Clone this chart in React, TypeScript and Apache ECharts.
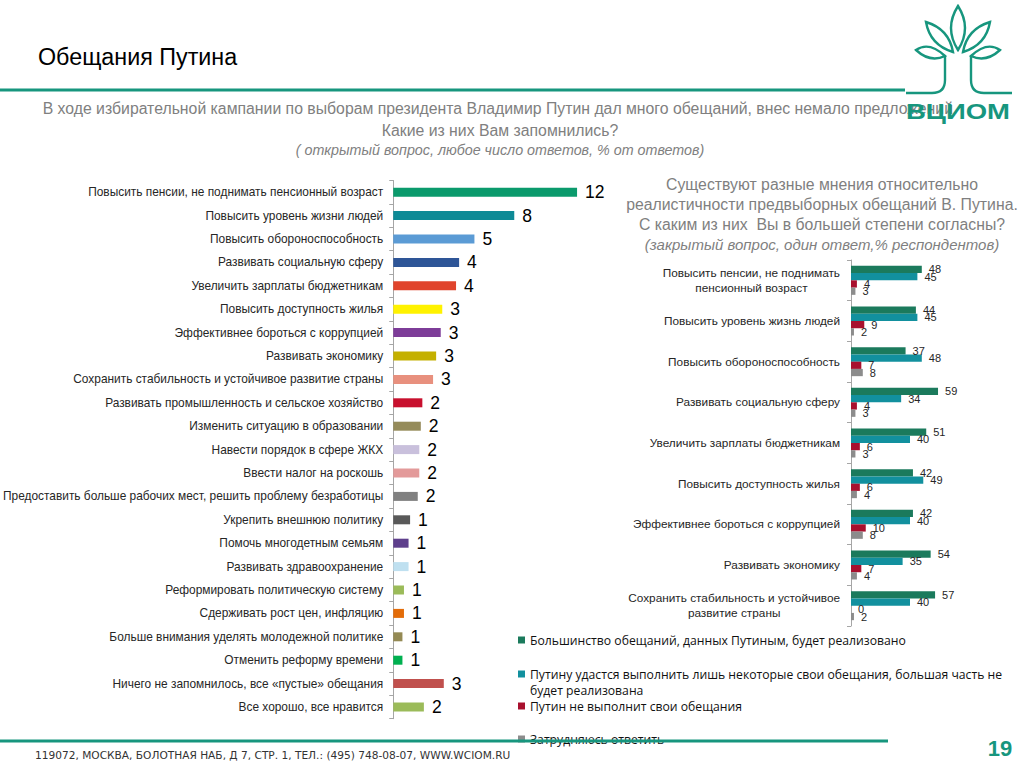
import React, { useEffect, useRef } from "react";
import * as echarts from "echarts";

// ---------- Left chart (open question, % of answers) ----------
const leftCategories = [
  "Повысить пенсии, не поднимать пенсионный возраст",
  "Повысить уровень жизни людей",
  "Повысить обороноспособность",
  "Развивать социальную сферу",
  "Увеличить зарплаты бюджетникам",
  "Повысить доступность жилья",
  "Эффективнее бороться с коррупцией",
  "Развивать экономику",
  "Сохранить стабильность и устойчивое развитие страны",
  "Развивать промышленность и сельское хозяйство",
  "Изменить ситуацию в образовании",
  "Навести порядок в сфере ЖКХ",
  "Ввести налог на роскошь",
  "Предоставить больше рабочих мест, решить проблему безработицы",
  "Укрепить внешнюю политику",
  "Помочь многодетным семьям",
  "Развивать здравоохранение",
  "Реформировать политическую систему",
  "Сдерживать рост цен, инфляцию",
  "Больше внимания уделять молодежной политике",
  "Отменить реформу времени",
  "Ничего не запомнилось, все «пустые» обещания",
  "Все хорошо, все нравится",
];
const leftValues = [12, 7.9, 5.3, 4.3, 4.1, 3.2, 3.1, 2.8, 2.6, 1.9, 1.8, 1.7, 1.7, 1.6, 1.1, 1.0, 1.0, 0.7, 0.7, 0.6, 0.6, 3.3, 2.0];
const leftLabels = [12, 8, 5, 4, 4, 3, 3, 3, 3, 2, 2, 2, 2, 2, 1, 1, 1, 1, 1, 1, 1, 3, 2];
const leftColors = [
  "#0B9A6C", "#0E8A96", "#5B9BD5", "#2E5597", "#E0442C", "#FFF200", "#7D3C98", "#C4B000",
  "#E8907E", "#C8102E", "#958B5A", "#C9C0DC", "#E39A9A", "#808080", "#595959", "#5E3F8C",
  "#BFE0F0", "#9BBB59", "#E36C09", "#948A54", "#00B050", "#C0504D", "#9BBB59",
];

// ---------- Right chart (closed question, % of respondents) ----------
const rightCategories = [
  "Повысить пенсии, не поднимать\nпенсионный возраст",
  "Повысить уровень жизнь людей",
  "Повысить обороноспособность",
  "Развивать социальную сферу",
  "Увеличить зарплаты бюджетникам",
  "Повысить доступность жилья",
  "Эффективнее бороться с коррупцией",
  "Развивать экономику",
  "Сохранить стабильность и устойчивое\nразвитие страны",
];
const seriesNames = [
  "Большинство обещаний, данных Путиным, будет реализовано",
  "Путину удастся выполнить лишь некоторые свои обещания, большая часть не будет реализована",
  "Путин не выполнит свои обещания",
  "Затрудняюсь ответить",
];
const mostRealized = [48, 44, 37, 59, 51, 42, 42, 54, 57];
const someRealized = [45, 45, 48, 34, 40, 49, 40, 35, 40];
const notFulfilled = [4, 9, 7, 4, 6, 6, 10, 7, 0];
const hardToSay = [3, 2, 8, 3, 3, 4, 8, 4, 2];
const rightColors = ["#1B7A5C", "#12909E", "#A8102E", "#8C8C8C"];

const logoPath =
  "M958,6 Q944,28 958,50 Q972,28 958,6 Z " +
  "M926,22 Q930,45 953,52 Q949,29 926,22 Z " +
  "M990,22 Q986,45 963,52 Q967,29 990,22 Z " +
  "M916,50 Q929,41 945,56 Q930,63 916,50 Z " +
  "M1000,50 Q987,41 971,56 Q986,63 1000,50 Z " +
  "M945,56 L945,80 Q945,93 932,93 L906,93 " +
  "M971,56 L971,80 Q971,93 984,93 L1012,93";

const FONT = '"Liberation Sans", Arial, sans-serif';
const GREEN = "#17967E";

export default function App() {
  const ref = useRef<HTMLDivElement>(null);
  useEffect(() => {
    if (!ref.current) return;
    echarts.graphic.registerShape("wciomLogo", echarts.graphic.extendPath(logoPath, {}));
    const chart = echarts.init(ref.current, null, { renderer: "svg" });

    const rightData = [mostRealized, someRealized, notFulfilled, hardToSay];
    const legendTops = [632, 650, 698, 731];

    const option: any = {
      animation: false,
      backgroundColor: "#ffffff",
      textStyle: { fontFamily: FONT },
      grid: [
        { left: 393, top: 180.5, width: 214.7, height: 538.2 },
        { left: 851, top: 260, width: 147.5, height: 366 },
      ],
      xAxis: [
        { type: "value", gridIndex: 0, min: 0, max: 14, show: false },
        { type: "value", gridIndex: 1, min: 0, max: 100, show: false },
      ],
      yAxis: [
        {
          type: "category",
          gridIndex: 0,
          inverse: true,
          data: leftCategories,
          axisLine: { show: true, lineStyle: { color: "#A6A6A6", width: 1 } },
          axisTick: { show: true, length: 4, lineStyle: { color: "#A6A6A6" } },
          axisLabel: { margin: 10, fontSize: 11.9, color: "#262626", fontFamily: FONT },
        },
        {
          type: "category",
          gridIndex: 1,
          inverse: true,
          data: rightCategories,
          axisLine: { show: true, lineStyle: { color: "#A6A6A6", width: 1 } },
          axisTick: { show: true, length: 4, lineStyle: { color: "#A6A6A6" } },
          axisLabel: {
            margin: 11,
            formatter: (v: string) => v.split("\n").map((s) => `{c|${s}}`).join("\n"),
            rich: {
              c: { align: "center", fontSize: 11.8, color: "#262626", fontFamily: FONT, lineHeight: 15 },
            },
          },
        },
      ],
      legend: seriesNames.map((n, i) => ({
        data: [n],
        left: 518,
        top: legendTops[i],
        padding: 0,
        icon: "rect",
        itemWidth: 7,
        itemHeight: 7,
        selectedMode: false,
        formatter: (name: string) =>
          i === 1 ? "\n" + name.replace(" не будет", " не\nбудет") : name,
        textStyle: { fontSize: 12.2, color: "#111", fontFamily: '"Open Sans", sans-serif', lineHeight: 16 },
      })),
      series: [
        {
          type: "bar",
          xAxisIndex: 0,
          yAxisIndex: 0,
          barWidth: 9,
          data: leftValues.map((v, i) => ({ value: v, itemStyle: { color: leftColors[i] } })),
          label: {
            show: true,
            position: "right",
            distance: 8,
            formatter: (p: any) => String(leftLabels[p.dataIndex]),
            fontSize: 17.5,
            color: "#000",
            fontFamily: FONT,
          },
        },
        ...seriesNames.map((n, k) => ({
          type: "bar",
          name: n,
          xAxisIndex: 1,
          yAxisIndex: 1,
          barWidth: 7.25,
          barGap: "0%",
          itemStyle: { color: rightColors[k] },
          data: rightData[k],
          label: { show: true, position: "right", distance: 7, fontSize: 11, color: "#262626", fontFamily: FONT },
        })),
      ],
      graphic: {
        elements: [
          { type: "text", x: 38, y: 57, style: { text: "Обещания Путина", fontSize: 23.3, fontFamily: FONT, fill: "#000", align: "left", verticalAlign: "middle" } },
          { type: "line", shape: { x1: 0, y1: 90, x2: 905, y2: 90 }, style: { stroke: GREEN, lineWidth: 3 } },
          { type: "text", x: 500, y: 108, style: { text: "В ходе избирательной кампании по выборам президента Владимир Путин дал много обещаний, внес немало предложений.", fontSize: 15.8, fontFamily: FONT, fill: "#808080", align: "center", verticalAlign: "middle" } },
          { type: "text", x: 500, y: 130, style: { text: "Какие из них Вам запомнились?", fontSize: 15.8, fontFamily: FONT, fill: "#808080", align: "center", verticalAlign: "middle" } },
          { type: "text", x: 500, y: 150, style: { text: "( открытый вопрос, любое число ответов, % от ответов)", fontSize: 14.3, fontStyle: "italic", fontFamily: FONT, fill: "#808080", align: "center", verticalAlign: "middle" } },
          { type: "text", x: 822, y: 184, style: { text: "Существуют разные мнения относительно", fontSize: 15.8, fontFamily: FONT, fill: "#7F7F7F", align: "center", verticalAlign: "middle" } },
          { type: "text", x: 822, y: 204, style: { text: "реалистичности предвыборных обещаний В. Путина.", fontSize: 15.8, fontFamily: FONT, fill: "#7F7F7F", align: "center", verticalAlign: "middle" } },
          { type: "text", x: 822, y: 224, style: { text: "С каким из них  Вы в большей степени согласны?", fontSize: 15.8, fontFamily: FONT, fill: "#7F7F7F", align: "center", verticalAlign: "middle" } },
          { type: "text", x: 822, y: 244, style: { text: "(закрытый вопрос, один ответ,% респондентов)", fontSize: 15, fontStyle: "italic", fontFamily: FONT, fill: "#7F7F7F", align: "center", verticalAlign: "middle" } },
          { type: "wciomLogo", x: 0, y: 0, z: 50, style: { stroke: GREEN, fill: "none", lineWidth: 2.4 } },
          { type: "text", x: 958, y: 111, z: 50, scaleX: 1.25, style: { text: "ВЦИОМ", fontSize: 22, fontWeight: "bold", fontFamily: FONT, fill: GREEN, align: "center", verticalAlign: "middle" } },
          { type: "line", z: 100, shape: { x1: 0, y1: 741, x2: 888, y2: 741 }, style: { stroke: GREEN, lineWidth: 3 } },
          { type: "text", x: 35, y: 755, style: { text: "119072, МОСКВА, БОЛОТНАЯ НАБ, Д 7, СТР. 1, ТЕЛ.: (495) 748-08-07, WWW.WCIOM.RU", fontSize: 10.6, fontFamily: '"DejaVu Sans", sans-serif', fill: "#333", align: "left", verticalAlign: "middle" } },
          { type: "text", x: 1000, y: 748, style: { text: "19", fontSize: 22, fontWeight: "bold", fontFamily: FONT, fill: GREEN, align: "center", verticalAlign: "middle" } },
        ],
      },
    };
    chart.setOption(option);
    return () => chart.dispose();
  }, []);
  return <div ref={ref} style={{ position: "absolute", left: 0, top: 0, width: 1024, height: 768 }} />;
}
